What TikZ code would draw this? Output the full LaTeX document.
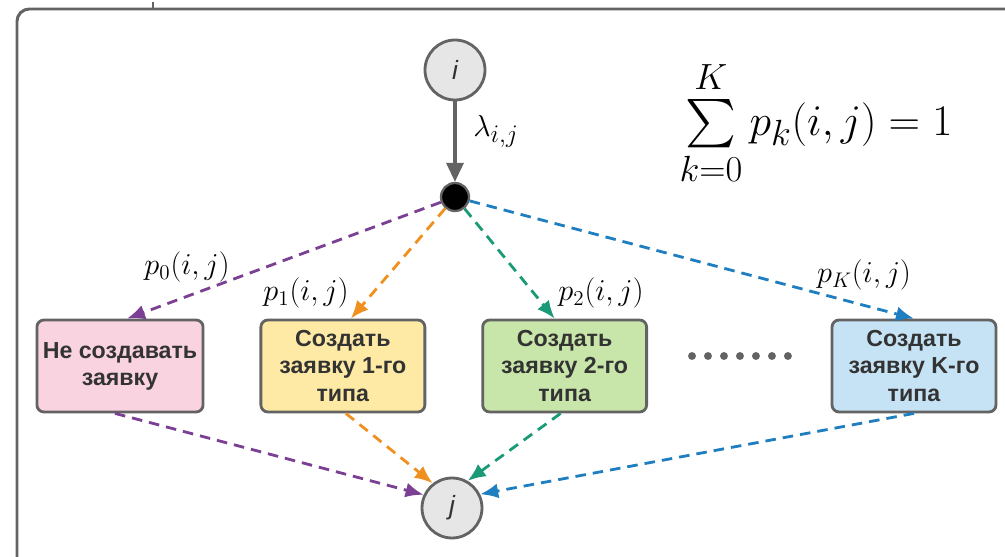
\documentclass[tikz,border=0pt]{standalone}
\usepackage[no-math]{fontspec}
\usepackage{amsmath,amssymb}
\usetikzlibrary{arrows.meta,positioning}
\newfontfamily\boxfont{Liberation Sans}
\definecolor{edge}{HTML}{636363}
\definecolor{txt}{HTML}{333333}
\definecolor{statefill}{HTML}{E6E6E6}
\definecolor{rose}{HTML}{F9D3DF}
\definecolor{sand}{HTML}{FEEAA5}
\definecolor{leaf}{HTML}{C8E6A9}
\definecolor{ice}{HTML}{C6E3F5}
\definecolor{plum}{HTML}{7B3F93}
\definecolor{amber}{HTML}{F0901E}
\definecolor{jade}{HTML}{1B9A78}
\definecolor{sea}{HTML}{1F7EC0}

\begin{document}
\begin{tikzpicture}[x=0.02cm,y=-0.02cm,every node/.style={align=center},box/.style={draw=edge,line width=1.6pt,rounded corners=4pt,minimum width=3.28cm,minimum height=1.84cm,text=txt,font=\boxfont\bfseries\fontsize{13.2}{15.4}\selectfont},state/.style={circle,draw=edge,fill=statefill,line width=1.6pt,minimum size=1.2cm,inner sep=0pt,text=txt,font=\boxfont\itshape\fontsize{15}{15}\selectfont},prob/.style={font=\fontsize{17.5}{20}\selectfont},flow/.style={-{Latex[length=3.6mm,width=3mm]},line width=1.6pt,dash pattern=on 6pt off 4pt}]
\useasboundingbox (0,0) rectangle (1005,557);
\draw[edge,line width=1.7pt,rounded corners=7pt] (17,600) -- (17,9) -- (1040,9);
\draw[edge,line width=0.7pt] (153,2) -- (153,9);
\node[state] (i) at (455,70) {i};
\node[circle,fill=black,draw=edge,line width=1.3pt,minimum size=0.56cm,inner sep=0pt] (hub) at (455,197) {};
\draw[-{Triangle[length=3.8mm,width=3.4mm]},edge,line width=1.8pt] (i) -- (hub);
\node[font=\fontsize{19}{22}\selectfont] (lam) at (496,131) {$\lambda_{i,j}$};
\node[font=\fontsize{27.5}{32}\selectfont] (norm) at (816,123) {$\sum\limits_{k=0}^{K\rule[-3pt]{0pt}{0pt}} p_k(i,j)=1$};
\node[box,fill=rose] (none) at (120,366) {Не создавать\\заявку};
\node[box,fill=sand,right=1.1cm of none] (type1) {Создать\\заявку 1-го\\типа};
\node[box,fill=leaf,right=1.1cm of type1] (type2) {Создать\\заявку 2-го\\типа};
\node[box,fill=ice] (typeK) at (914,366) {Создать\\заявку K-го\\типа};
\coordinate (dotsA) at (692,356);
\coordinate (dotsB) at (789,356);
\draw[edge,line width=4.5pt,line cap=round,dash pattern=on 0pt off 9.1pt] (dotsA) -- (dotsB);
\node[state] (j) at (452,508) {j};
\draw[flow,plum] (hub) -- ([xshift=0.14cm]none.north);
\draw[flow,amber] (hub) -- ([xshift=0.16cm]type1.north);
\draw[flow,jade] (hub) -- ([xshift=-0.2cm]type2.north);
\draw[flow,sea] (hub) -- (typeK.north);
\node[prob] (p0) at (187,267) {$p_0(i,j)$};
\node[prob] (p1) at (306,293) {$p_1(i,j)$};
\node[prob] (p2) at (601,293) {$p_2(i,j)$};
\node[prob] (pK) at (864,275) {$p_K(i,j)$};
\draw[flow,plum] ([xshift=-0.1cm]none.south) -- (j.155);
\draw[flow,amber] ([xshift=0.06cm]type1.south) -- (j.128);
\draw[flow,jade] ([xshift=-0.08cm]type2.south) -- (j.60);
\draw[flow,sea] (typeK.south) -- (j.26);
\end{tikzpicture}
\end{document}
